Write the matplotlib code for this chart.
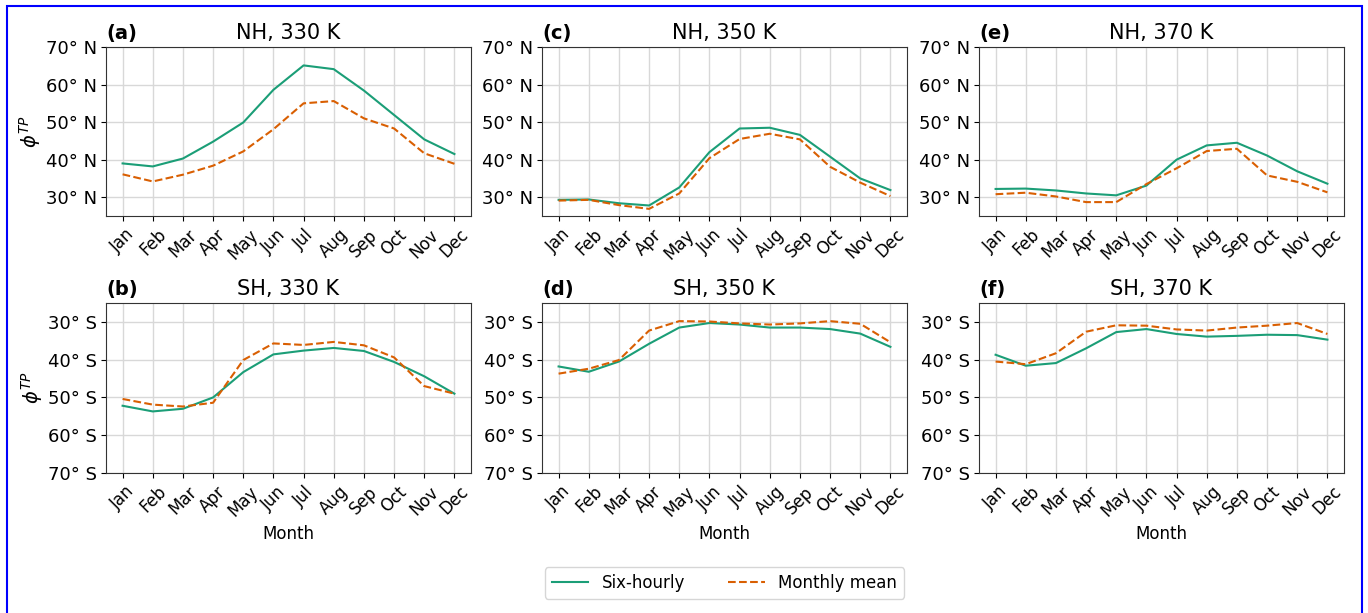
import numpy as np
import matplotlib.pyplot as plt
from matplotlib.patches import Rectangle

plt.rcParams['font.family'] = 'DejaVu Sans'
plt.rcParams['mathtext.fontset'] = 'dejavusans'

months = ['Jan', 'Feb', 'Mar', 'Apr', 'May', 'Jun',
          'Jul', 'Aug', 'Sep', 'Oct', 'Nov', 'Dec']

# NH latitudes (deg N)
nh330_6h = [39.0, 38.2, 40.3, 44.8, 49.9, 58.6, 65.1, 64.1, 58.4, 51.9, 45.4, 41.5]
nh330_mm = [36.1, 34.2, 36.0, 38.4, 42.2, 48.1, 55.0, 55.6, 51.0, 48.3, 41.7, 38.9]
nh350_6h = [29.3, 29.4, 28.4, 27.8, 32.6, 42.0, 48.3, 48.5, 46.6, 40.8, 35.0, 31.9]
nh350_mm = [29.1, 29.3, 27.9, 26.9, 31.0, 40.4, 45.5, 46.9, 45.4, 38.1, 33.9, 30.3]
nh370_6h = [32.2, 32.3, 31.8, 31.0, 30.5, 33.1, 40.0, 43.8, 44.5, 41.1, 36.9, 33.6]
nh370_mm = [30.8, 31.2, 30.2, 28.7, 28.7, 33.5, 37.7, 42.3, 42.9, 35.8, 34.1, 31.3]

# SH latitudes (deg S, stored negative)
sh330_6h = [-52.2, -53.7, -53.0, -50.0, -43.3, -38.6, -37.6, -36.9, -37.7, -40.6, -44.4, -49.0]
sh330_mm = [-50.4, -51.9, -52.4, -51.4, -40.1, -35.7, -36.1, -35.3, -36.2, -39.4, -47.0, -49.0]
sh350_6h = [-41.8, -43.2, -40.5, -35.8, -31.5, -30.3, -30.7, -31.5, -31.5, -31.9, -33.1, -36.6]
sh350_mm = [-43.7, -42.4, -40.1, -32.3, -29.8, -29.9, -30.4, -30.7, -30.4, -29.8, -30.5, -35.4]
sh370_6h = [-38.7, -41.6, -40.9, -37.0, -32.7, -31.9, -33.2, -33.9, -33.7, -33.4, -33.5, -34.7]
sh370_mm = [-40.5, -41.2, -38.3, -32.6, -30.9, -31.0, -32.0, -32.3, -31.5, -31.0, -30.3, -33.2]

green = '#1b9e77'
orange = '#d95f02'

W, H = 1368, 613
fig = plt.figure(figsize=(W / 100, H / 100), dpi=100)

lefts = [106, 542, 979]
aw = 365
rows = [(47, 216), (303, 473)]

panels = [
    # (col, row, label, title, six-hourly, monthly, hemisphere)
    (0, 0, '(a)', 'NH, 330 K', nh330_6h, nh330_mm, 'N'),
    (0, 1, '(b)', 'SH, 330 K', sh330_6h, sh330_mm, 'S'),
    (1, 0, '(c)', 'NH, 350 K', nh350_6h, nh350_mm, 'N'),
    (1, 1, '(d)', 'SH, 350 K', sh350_6h, sh350_mm, 'S'),
    (2, 0, '(e)', 'NH, 370 K', nh370_6h, nh370_mm, 'N'),
    (2, 1, '(f)', 'SH, 370 K', sh370_6h, sh370_mm, 'S'),
]

x = np.arange(len(months))
for col, row, lab, title, six, mm, hemi in panels:
    top, bot = rows[row]
    ax = fig.add_axes([lefts[col] / W, 1 - bot / H, aw / W, (bot - top) / H])
    l1, = ax.plot(x, six, color=green, lw=1.5, label='Six-hourly')
    l2, = ax.plot(x, mm, color=orange, lw=1.5, ls='--', label='Monthly mean')
    ax.grid(True, color='#d8d8d8', lw=1.0)
    ax.set_axisbelow(True)
    ax.set_xticks(x)
    ax.set_xticklabels(months, rotation=45, fontsize=12)
    ax.tick_params(axis='y', pad=3)
    if hemi == 'N':
        ticks = [30, 40, 50, 60, 70]
        ax.set_ylim(25, 70)
        ax.set_yticks(ticks)
        ax.set_yticklabels([f'{t}° N' for t in ticks], fontsize=13)
    else:
        ticks = [-30, -40, -50, -60, -70]
        ax.set_ylim(-70, -25)
        ax.set_yticks(ticks)
        ax.set_yticklabels([f'{-t}° S' for t in ticks], fontsize=13)
    ax.set_title(title, fontsize=15, pad=5.5)
    ax.set_title(lab, loc='left', fontsize=14, fontweight='bold', pad=5.5)
    if col == 0:
        ax.set_ylabel(r'$\phi^{TP}$', fontsize=14, labelpad=2)
    if row == 1:
        ax.set_xlabel('Month', fontsize=12)
    for s in ax.spines.values():
        s.set_color('#333333')

fig.legend(handles=[l1, l2], loc='center', bbox_to_anchor=(724.5 / W, 1 - 583 / H),
           ncol=2, fontsize=12, columnspacing=2.6, handlelength=2.2)

# page frame
fig.patches.append(Rectangle((6.5 / W, -0.05), (1362 - 6.5) / W, 1.05 - 6.5 / H,
                             transform=fig.transFigure, fill=False,
                             edgecolor='blue', lw=1.5))

fig.savefig('out.png', dpi=100)
